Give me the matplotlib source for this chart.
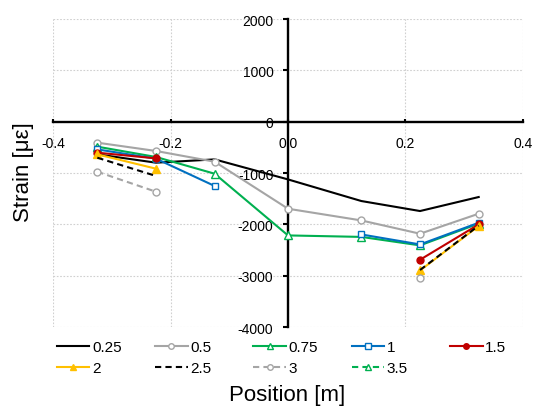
import numpy as np
import matplotlib
matplotlib.use("Agg")
import matplotlib.pyplot as plt

plt.rcParams['font.family'] = ['Liberation Sans', 'DejaVu Sans']

# Gauge positions along the member [m]
positions = [-0.325, -0.225, -0.125, 0.0, 0.125, 0.225, 0.325]

# Strain readings [micro-strain] for each load level (nan = no reading)
nan = np.nan
strain_025 = [-637, -799, -735, -1125, -1546, -1741, -1468]
strain_05 = [-409, -571, -780, -1696, -1924, -2183, -1793]
strain_075 = [-487, -688, -1014, -2216, -2245, -2410, -1985]
strain_1 = [-540, -721, -1253, nan, -2197, -2392, -1969]
strain_15 = [-604, -715, nan, nan, nan, -2690, -2002]
strain_2 = [-637, -916, nan, nan, nan, -2898, -2033]
strain_25 = [-702, -1058, nan, nan, nan, -2890, -2025]
strain_3 = [-975, -1365, nan, nan, nan, -3055, nan]
strain_35 = [nan, nan, nan, nan, nan, nan, nan]

series_labels = ["0.25", "0.5", "0.75", "1", "1.5", "2", "2.5", "3", "3.5"]

x_ticks = [-0.4, -0.2, 0.0, 0.2, 0.4]
x_tick_labels = ["-0.4", "-0.2", "0.0", "0.2", "0.4"]
y_ticks = [-4000, -3000, -2000, -1000, 0, 1000, 2000]
y_tick_labels = ["-4000", "-3000", "-2000", "-1000", "0", "1000", "2000"]

GRAY = '#A5A5A5'
GREEN = '#00B050'
BLUE = '#0070C0'
RED = '#C00000'
YELLOW = '#FFC000'

styles = [
    dict(color='black', ls='-', marker=None),
    dict(color=GRAY, ls='-', marker='o', mfc='white'),
    dict(color=GREEN, ls='-', marker='^', mfc='white'),
    dict(color=BLUE, ls='-', marker='s', mfc='white'),
    dict(color=RED, ls='-', marker='o', mfc=RED),
    dict(color=YELLOW, ls='-', marker='^', mfc=YELLOW),
    dict(color='black', ls=(0, (3, 2)), marker=None),
    dict(color=GRAY, ls=(0, (3, 2)), marker='o', mfc='white'),
    dict(color=GREEN, ls=(0, (3, 2)), marker='^', mfc='white'),
]
all_series = [strain_025, strain_05, strain_075, strain_1, strain_15,
              strain_2, strain_25, strain_3, strain_35]

W, H = 537, 410
fig = plt.figure(figsize=(W / 100, H / 100), dpi=100)
ax = fig.add_axes([53.3 / W, 1 - 328 / H, (522.7 - 53.3) / W, (328 - 20) / H])

handles = []
for vals, st, lab in zip(all_series, styles, series_labels):
    ms = 5 if st['marker'] == 'o' else 5.5
    if st['marker'] == 's':
        ms = 4.8
    ln, = ax.plot(positions, vals, color=st['color'], linestyle=st['ls'],
                  linewidth=1.5, marker=st['marker'], markersize=ms,
                  markerfacecolor=st.get('mfc', st['color']),
                  markeredgecolor=st['color'], markeredgewidth=1.0,
                  label=lab, zorder=3)
    handles.append(ln)

ax.set_xlim(-0.4, 0.4)
ax.set_ylim(-4000, 2000)
ax.set_xticks(x_ticks)
ax.set_xticklabels(x_tick_labels, fontsize=12.5)
ax.set_yticks(y_ticks)
ax.set_yticklabels(y_tick_labels, fontsize=12.5)

# light dotted grid, including the outer frame
ax.grid(True, color='#D0D0D0', linestyle=(0, (1.5, 1.5)), linewidth=0.8, zorder=0)
for gl in ax.get_xgridlines() + ax.get_ygridlines():
    gl.set_clip_on(False)

for side in ['top', 'right']:
    ax.spines[side].set_visible(False)
ax.spines['bottom'].set_position(('data', 0))
ax.spines['left'].set_position(('data', 0))
for side in ['bottom', 'left']:
    ax.spines[side].set_linewidth(1.7)
    ax.spines[side].set_zorder(2)

ax.tick_params(axis='x', direction='in', length=2.5, width=1.5, pad=10.5)
ax.tick_params(axis='y', direction='out', length=3.5, width=1.5, pad=7)
ax.set_facecolor('white')

fig.text(24 / W, 1 - 172 / H, "Strain [με]", rotation=90, fontsize=16,
         ha='center', va='center')
fig.text(287 / W, 1 - 396 / H, "Position [m]", fontsize=16,
         ha='center', va='center')

# legend laid out as a 5-column grid, filled row by row
col_x = [56.7, 155, 253.3, 351.6, 450]
cols = [[0, 5], [1, 6], [2, 7], [3, 8], [4]]
for cx, idxs in zip(col_x, cols):
    fig.legend([handles[i] for i in idxs], [series_labels[i] for i in idxs],
               loc='upper left', bbox_to_anchor=(cx / W, 1 - 341 / H),
               frameon=False, fontsize=11, handlelength=2.13,
               handletextpad=0.18, borderpad=0, borderaxespad=0,
               labelspacing=0.45, numpoints=1, markerscale=0.8)

fig.savefig("out.png", dpi=100, facecolor='white')
